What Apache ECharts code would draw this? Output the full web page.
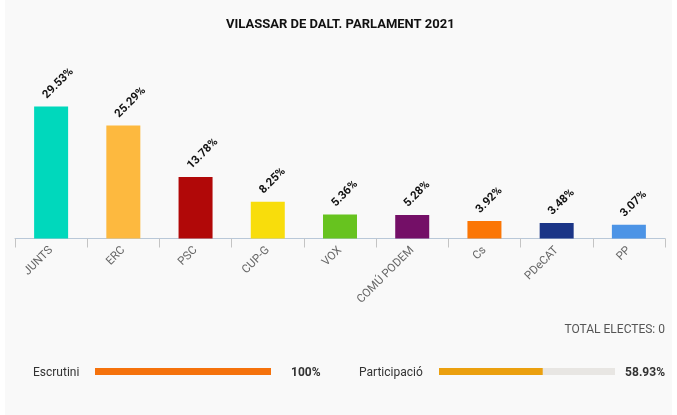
<!DOCTYPE html>
<html>
<head>
<meta charset="utf-8">
<style>
html, body { margin: 0; padding: 0; background: #fff; }
#main { position: absolute; left: 5px; top: 0; width: 667px; height: 415px; }
</style>
<script src="https://cdn.jsdelivr.net/npm/echarts@6/dist/echarts.min.js"></script>
</head>
<body>
<div id="main"></div>
<script>
var partits = ['JUNTS', 'ERC', 'PSC', 'CUP-G', 'VOX', 'COMÚ PODEM', 'Cs', 'PDeCAT', 'PP'];
var vots = [29.53, 25.29, 13.78, 8.25, 5.36, 5.28, 3.92, 3.48, 3.07];
var colors = ['#00d8bc', '#fdb93f', '#b10808', '#f8dd0c', '#67c31f', '#740f67', '#fb7605', '#1b3587', '#4c94e6'];
var escrutini = [100];
var participacio = [58.93];

var myChart = echarts.init(document.getElementById('main'));

function progressGrid(left) {
    return { left: left, top: 368, width: 176, height: 7 };
}

function progressAxes(i) {
    return {
        x: { gridIndex: i, type: 'value', min: 0, max: 100, show: false },
        y: { gridIndex: i, type: 'category', data: [''], show: false }
    };
}

var option = {
    backgroundColor: '#f9f9f9',
    animation: false,
    textStyle: { fontFamily: 'Roboto' },
    title: {
        text: 'VILASSAR DE DALT. PARLAMENT 2021',
        left: 216,
        top: 13,
        textStyle: { fontFamily: 'Roboto', fontSize: 13, fontWeight: 'bold', color: '#111' }
    },
    grid: [
        { left: 10, right: 7, top: 37.5, height: 201 },
        progressGrid(90),
        progressGrid(434)
    ],
    xAxis: [
        {
            type: 'category',
            data: partits,
            axisLine: { lineStyle: { color: '#b9c8d8' } },
            axisTick: { show: true, alignWithLabel: false, length: 9, lineStyle: { color: '#c4c4c4' } },
            axisLabel: { rotate: 45, color: '#666', fontSize: 11.5, margin: 10, verticalAlign: 'middle', padding: [8, 0, 0, 0] }
        },
        progressAxes(1).x,
        progressAxes(2).x
    ],
    yAxis: [
        { type: 'value', min: 0, max: 45, show: false },
        progressAxes(1).y,
        progressAxes(2).y
    ],
    series: [
        {
            type: 'bar',
            barWidth: 34,
            data: vots.map(function (v, i) {
                return { value: v, itemStyle: { color: colors[i] } };
            }),
            label: {
                show: true,
                position: 'top',
                rotate: 45,
                align: 'left',
                verticalAlign: 'middle',
                distance: 16,
                offset: [-9, 0],
                fontSize: 11.5,
                fontWeight: 'bold',
                color: '#111',
                formatter: '{c}%'
            }
        },
        {
            type: 'bar',
            xAxisIndex: 1,
            yAxisIndex: 1,
            barWidth: 7,
            data: escrutini,
            showBackground: true,
            backgroundStyle: { color: '#e8e6e3' },
            itemStyle: { color: '#f5720c' }
        },
        {
            type: 'bar',
            xAxisIndex: 2,
            yAxisIndex: 2,
            barWidth: 7,
            data: participacio,
            showBackground: true,
            backgroundStyle: { color: '#e8e6e3' },
            itemStyle: { color: '#eba00f' }
        }
    ],
    graphic: [
        { type: 'text', right: 7, top: 324, style: { text: 'TOTAL ELECTES: 0', font: '12px Roboto', fill: '#555' } },
        { type: 'text', left: 28, top: 367, style: { text: 'Escrutini', font: '12px Roboto', fill: '#333' } },
        { type: 'text', left: 286, top: 367, style: { text: escrutini[0] + '%', font: 'bold 12px Roboto', fill: '#333' } },
        { type: 'text', left: 354, top: 367, style: { text: 'Participació', font: '12px Roboto', fill: '#333' } },
        { type: 'text', right: 7, top: 367, style: { text: participacio[0] + '%', font: 'bold 12px Roboto', fill: '#333' } }
    ]
};

myChart.setOption(option);
window.onresize = function () {
    myChart.resize();
};
</script>
</body>
</html>
